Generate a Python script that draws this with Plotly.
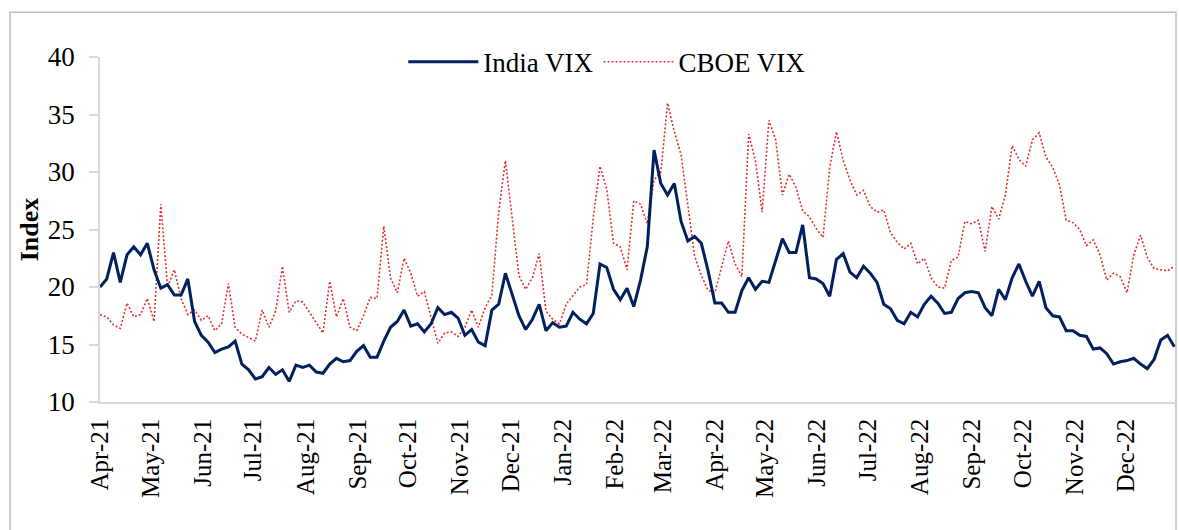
import pandas as pd
import plotly.graph_objects as go

# sample dates, roughly every 4 calendar days from Apr-21 to Dec-22
dates = pd.date_range("2021-04-01", "2022-12-30", periods=160)

india_vix = [
    20.0, 20.7, 23.0, 20.4, 22.8, 23.5, 22.8, 23.8, 21.5, 19.9,
    20.2, 19.3, 19.3, 20.7, 17.0, 15.8, 15.2, 14.3, 14.6, 14.8,
    15.3, 13.3, 12.8, 12.0, 12.2, 13.0, 12.4, 12.8, 11.8, 13.2,
    13.0, 13.2, 12.6, 12.5, 13.3, 13.8, 13.5, 13.6, 14.4, 14.9,
    13.9, 13.9, 15.3, 16.5, 17.0, 18.0, 16.6, 16.8, 16.1, 16.8,
    18.2, 17.6, 17.8, 17.3, 15.8, 16.3, 15.2, 14.9, 18.0, 18.5,
    21.2, 19.3, 17.5, 16.3, 17.2, 18.5, 16.2, 16.9, 16.5, 16.6,
    17.8, 17.2, 16.8, 17.7, 22.0, 21.7, 19.8, 18.9, 19.9, 18.3,
    20.6, 23.5, 31.9, 29.0, 28.0, 29.0, 25.7, 24.0, 24.4, 23.8,
    21.4, 18.6, 18.6, 17.8, 17.8, 19.7, 20.8, 19.8, 20.5, 20.4,
    22.2, 24.2, 23.0, 23.0, 25.4, 20.8, 20.7, 20.3, 19.2, 22.4,
    22.9, 21.3, 20.8, 21.8, 21.2, 20.4, 18.5, 18.1, 17.1, 16.8,
    17.8, 17.4, 18.5, 19.2, 18.6, 17.7, 17.8, 19.0, 19.5, 19.6,
    19.5, 18.2, 17.5, 19.8, 18.9, 20.8, 22.0, 20.5, 19.2, 20.5,
    18.2, 17.5, 17.4, 16.2, 16.2, 15.8, 15.7, 14.6, 14.7, 14.2,
    13.3, 13.5, 13.6, 13.8, 13.3, 12.9, 13.7, 15.4, 15.8, 14.8,
]

cboe_vix = [
    17.6, 17.4, 16.7, 16.4, 18.6, 17.4, 17.6, 19.0, 17.0, 27.2,
    20.0, 21.5, 19.0, 17.6, 18.0, 17.1, 17.5, 16.2, 16.8, 20.3,
    16.5, 15.9, 15.6, 15.3, 18.0, 16.5, 17.9, 21.8, 17.8, 18.8,
    18.7, 17.8, 16.8, 16.0, 20.5, 17.4, 19.0, 16.5, 16.2, 17.5,
    19.1, 19.0, 25.3, 20.8, 19.5, 22.5, 21.2, 19.2, 19.6, 17.3,
    15.1, 16.0, 16.1, 15.7, 16.5, 18.0, 16.5, 18.2, 19.3, 26.5,
    31.0, 26.0, 21.0, 19.8, 20.8, 22.9, 17.9, 17.2, 16.8, 18.5,
    19.3, 20.0, 20.2, 26.0, 30.5, 28.5, 23.8, 23.5, 21.5, 27.5,
    27.2, 25.5, 29.3, 30.0, 36.0, 33.5, 31.5, 27.2, 22.7, 21.0,
    19.7, 19.5, 21.8, 24.0, 22.0, 20.9, 33.3, 31.0, 26.5, 34.5,
    32.8, 28.0, 29.8, 28.7, 26.6, 26.1, 25.1, 24.3, 30.4, 33.5,
    31.0, 29.3, 28.0, 28.4, 27.0, 26.5, 26.7, 24.7, 23.9, 23.3,
    23.8, 22.0, 22.5, 20.8, 20.0, 19.9, 22.3, 22.6, 25.7, 25.5,
    25.8, 23.1, 27.0, 25.9, 28.0, 32.3, 31.1, 30.5, 32.8, 33.4,
    31.3, 30.4, 28.9, 25.8, 25.6, 25.0, 23.6, 24.1, 22.8, 20.6,
    21.2, 20.9, 19.5, 22.8, 24.5, 22.6, 21.6, 21.5, 21.4, 21.8,
]

month_ticks = pd.date_range("2021-04-01", "2022-12-01", freq="MS")

FONT = "Liberation Serif, Times New Roman, serif"
GREY = "#D9D9D9"

fig = go.Figure()

fig.add_trace(go.Scatter(
    x=dates, y=cboe_vix, name="CBOE VIX", mode="lines",
    line=dict(color="#E53030", width=1.6, dash="2px,2px"),
))
fig.add_trace(go.Scatter(
    x=dates, y=india_vix, name="India VIX", mode="lines",
    line=dict(color="#002060", width=3),
))

fig.update_layout(
    width=1179,
    height=530,
    margin=dict(l=100, r=3, t=57, b=128),
    paper_bgcolor="white",
    plot_bgcolor="white",
    font=dict(family=FONT, size=26, color="black"),
    showlegend=True,
    legend=dict(
        orientation="h", x=0.471, xanchor="center", y=0.985, yanchor="middle",
        traceorder="reversed", font=dict(family=FONT, size=27),
        bgcolor="rgba(0,0,0,0)", itemwidth=70,
    ),
    xaxis=dict(
        type="date",
        range=["2021-04-01", "2022-12-31"],
        tickvals=month_ticks,
        tickformat="%b-%y",
        tickangle=-90,
        ticks="",
        ticklabelstandoff=5,
        showgrid=False,
        zeroline=False,
        showline=True,
        linecolor=GREY,
        linewidth=1.5,
        tickfont=dict(family=FONT, size=25),
        automargin=False,
    ),
    yaxis=dict(
        range=[10, 40],
        dtick=5,
        showgrid=False,
        zeroline=False,
        showline=True,
        linecolor=GREY,
        linewidth=1.5,
        ticks="outside",
        ticklen=9,
        tickcolor=GREY,
        tickwidth=1.5,
        ticklabelstandoff=9,
        tickfont=dict(family=FONT, size=27),
        title=dict(text="<b>Index</b>", font=dict(family=FONT, size=26), standoff=2),
        automargin=False,
    ),
    shapes=[dict(
        type="rect", xref="paper", yref="paper",
        x0=-0.0836, x1=1.0, y0=-0.45, y1=1.1296,
        line=dict(color="#BFBFBF", width=1.5), layer="below",
    )],
)

fig.write_html(
    "out.html",
    config={"displayModeBar": False},
    post_script="document.body.style.margin='0';document.body.style.overflow='hidden';",
)
